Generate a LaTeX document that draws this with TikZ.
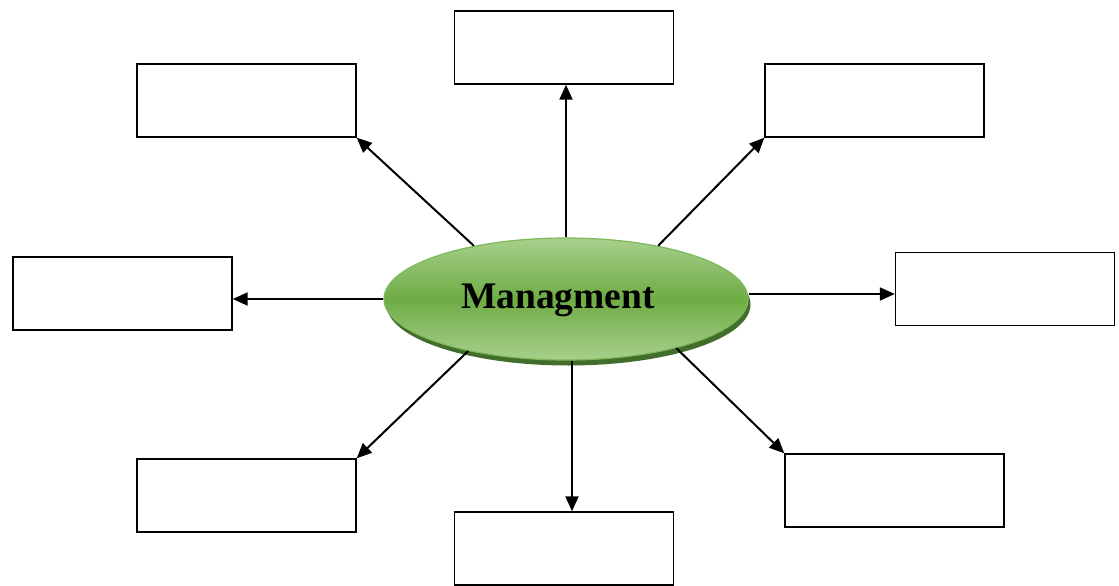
\documentclass[tikz,border=0pt]{standalone}
\usepackage{fontspec}
\setmainfont{Liberation Serif}
\usetikzlibrary{shapes.geometric,arrows.meta,calc}
\definecolor{hubLight}{HTML}{A8D08C}
\definecolor{hubMid}{HTML}{6EAC45}
\definecolor{hubEdge}{HTML}{7DB85A}
\definecolor{hubShadow}{HTML}{436D2B}
\tikzset{
  box/.style={draw=black, line width=1.4pt, fill=white, minimum width=219pt, minimum height=73pt, inner sep=0pt},
  hub/.style={ellipse, minimum width=364pt, minimum height=122pt, inner sep=0pt},
  link/.style={line width=2pt, -{Triangle[length=15pt,width=13pt]}}
}
\begin{document}
\begin{tikzpicture}[x=1pt,y=-1pt]
\useasboundingbox (0,0) rectangle (1119,586);
% outer boxes
\node[box] (top) at (564,47.5) {};
\node[box] (tl)  at (246.5,100.5) {};
\node[box] (tr)  at (874.5,100.5) {};
\node[box] (lf)  at (122.5,293.5) {};
\node[box] (rt)  at (1005,289) {};
\node[box] (bl)  at (246.5,495.5) {};
\node[box] (bt)  at (564,548.5) {};
\node[box] (br)  at (894.5,490.5) {};
% central ellipse with its shadow
\node[hub, fill=hubShadow] (hubshadow) at (568.5,304.5) {};
\node[hub, draw=hubEdge, line width=1.2pt, top color=hubLight, bottom color=hubLight, middle color=hubMid] (m) at (566,299) {};
\node[inner sep=0pt] (title) at (558,300) {\fontsize{37.5}{42}\selectfont\bfseries Managment};
% connectors
\draw[link] (m.90) -- (m.90 |- top.south);
\draw[link] (m.150.6) -- (tl.south east);
\draw[link] (m.30.6) -- (tr.south west);
\draw[link] (m.west) -- (m.west -| lf.east);
\coordinate (mr) at ($(m.east)+(0,-5)$);
\draw[link] (mr) -- (mr -| rt.west);
\draw[link] (m.208.6) -- (bl.north east);
\coordinate (mb) at ($(m.south)+(6,0)$);
\draw[link] (mb) -- ($(bt.north)+(8,0)$);
\draw[link] (m.336.5) -- (br.north west);
\end{tikzpicture}
\end{document}
